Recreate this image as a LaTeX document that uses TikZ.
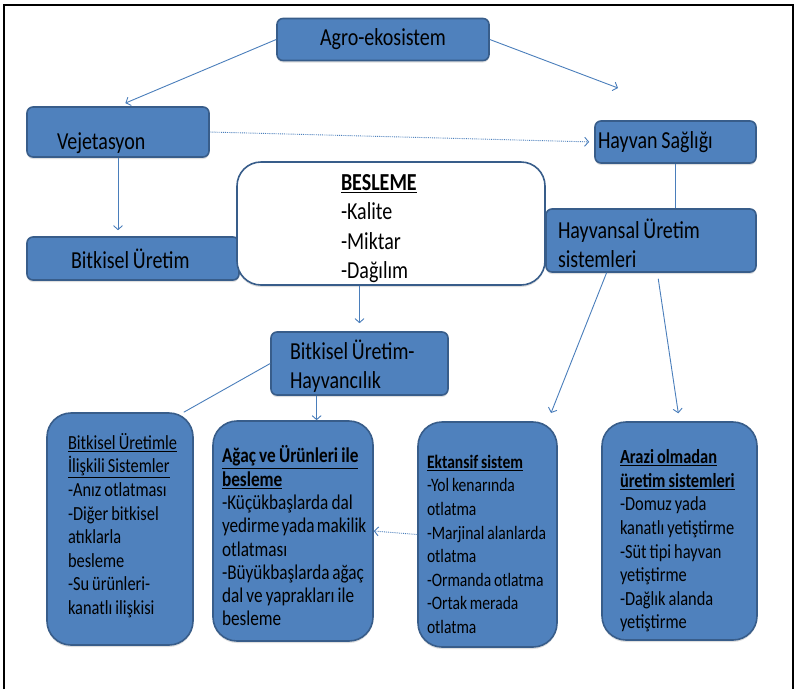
\documentclass[tikz,border=0pt]{standalone}
\usepackage{fontspec}
\setmainfont{Carlito}[FakeStretch=0.82, WordSpace=0.82]
\usepackage{tikz}
\usetikzlibrary{arrows.meta,calc,shadows}
\definecolor{kutumavi}{RGB}{79,129,189}
\definecolor{kenar}{RGB}{56,93,138}
\definecolor{okmavi}{RGB}{74,126,187}
\hyphenpenalty=10000
\exhyphenpenalty=10000

\begin{document}
\begin{tikzpicture}[x=1pt, y=-1pt,
    >={Straight Barb[length=4pt,width=9pt]},
    kutu/.style={draw=kenar, fill=kutumavi, line width=1.6pt, rounded corners=6pt,
        inner sep=0pt, align=flush left, font=\fontsize{24.4}{29.5}\selectfont,
        drop shadow={shadow xshift=0pt, shadow yshift=-2pt, opacity=0.25}},
    sistem/.style={kutu, rounded corners=24pt, font=\fontsize{20}{23.6}\selectfont},
    ok/.style={okmavi, line width=0.9pt}]
    \useasboundingbox (0,0) rectangle (799,689);
    \draw[line width=1.5pt] (4,689) -- (4,5) -- (793,5) -- (793,689);

    \node[kutu, align=center, minimum width=212pt, minimum height=42pt] (agro) at (383,39.5) {Agro-ekosistem};
    \node[kutu, minimum width=182pt, minimum height=50pt, text width=122pt,
        text height=39pt, text depth=5pt] (veje) at (118,132) {Vejetasyon};
    \node[kutu, minimum width=161pt, minimum height=42pt, text width=155pt] (saglik) at (675.5,142) {Hayvan Sağlığı};
    \node[kutu, minimum width=212pt, minimum height=43pt, text width=124pt] (bitkisel) at (133,258.5) {Bitkisel Üretim};
    \node[kutu, fill=white, rounded corners=24pt, minimum width=308pt, minimum height=123pt,
        text width=100pt, text height=26pt] (besleme) at (391,223.5)
        {\textbf{\underline{BESLEME}}\\-Kalite\\-Miktar\\-Dağılım};
    \node[kutu, minimum width=210pt, minimum height=63pt, text width=186pt, text height=25pt] (hayvansal) at (651,240.5)
        {Hayvansal Üretim\\sistemleri};
    \node[kutu, minimum width=177pt, minimum height=63pt, text width=139pt, text height=25pt] (buh) at (359.5,363.5)
        {Bitkisel Üretim-\\Hayvancılık};

    \node[sistem, minimum width=146pt, minimum height=232pt, text width=104pt, text height=9pt] (iliskili) at (120,529)
        {\underline{Bitkisel~Üretimle}\\\underline{İlişkili~Sistemler}\\-Anız~otlatması\\-Diğer~bitkisel\\atıklarla\\besleme\\-Su~ürünleri-\\kanatlı~ilişkisi};
    \node[sistem, font=\fontsize{21}{23.3}\selectfont, minimum width=160pt, minimum height=220pt,
        text width=142pt, text height=27pt] (agac) at (293,531)
        {\textbf{\underline{Ağaç~ve~Ürünleri~ile}}\\\textbf{\underline{besleme}}\\-Küçükbaşlarda~dal\\yedirme~yada~makilik\\otlatması\\-Büyükbaşlarda~ağaç\\dal~ve~yaprakları~ile\\besleme};
    \node[sistem, font=\fontsize{19}{23.6}\selectfont, minimum width=139pt, minimum height=225pt,
        text width=121pt, text height=33pt] (ektansif) at (487.5,534.5)
        {\textbf{\underline{Ektansif~sistem}}\\-Yol~kenarında\\otlatma\\-Marjinal~alanlarda\\otlatma\\-Ormanda~otlatma\\-Ortak~merada\\otlatma};
    \node[sistem, minimum width=155pt, minimum height=218pt, text width=119pt, text height=34pt] (arazi) at (679.5,531)
        {\textbf{\underline{Arazi~olmadan}}\\\textbf{\underline{üretim~sistemleri}}\\-Domuz~yada\\kanatlı~yetiştirme\\-Süt~tipi~hayvan\\yetiştirme\\-Dağlık~alanda\\yetiştirme};

    \coordinate (saglikucu) at (618,88);
    \coordinate (buhalt) at ($(buh.south west)!0.26!(buh.south east)$);
    \coordinate (hs1) at ($(hayvansal.south west)!0.29!(hayvansal.south east)$);
    \coordinate (hs2) at ($(hayvansal.south west)!0.53!(hayvansal.south east)$);
    \coordinate (ektansifucu) at (551,413);

    \draw[ok, ->, shorten >=8pt] (agro.west) -- (veje.north);
    \draw[ok, ->] (agro.east) -- (saglikucu);
    \draw[ok, densely dotted, ->, shorten >=5pt] (veje.east) -- (saglik.west);
    \draw[ok, ->, shorten >=6pt] (veje.south) -- (veje.south |- bitkisel.north);
    \draw[ok] (saglik.south) -- (saglik.south |- hayvansal.north);
    \draw[ok, ->, shorten >=8pt] (besleme.south -| buh.north) -- (buh.north);
    \draw[ok] (buh.west) -- ([xshift=-10pt]iliskili.north east);
    \draw[ok, ->] (buhalt) -- (buhalt |- agac.north);
    \draw[ok, ->] (hs1) -- (ektansifucu);
    \draw[ok, ->, shorten <=6pt, shorten >=8pt] (hs2) -- (arazi.north);
    \draw[ok, densely dotted, ->] (ektansif.west) -- (agac.east);
\end{tikzpicture}
\end{document}
